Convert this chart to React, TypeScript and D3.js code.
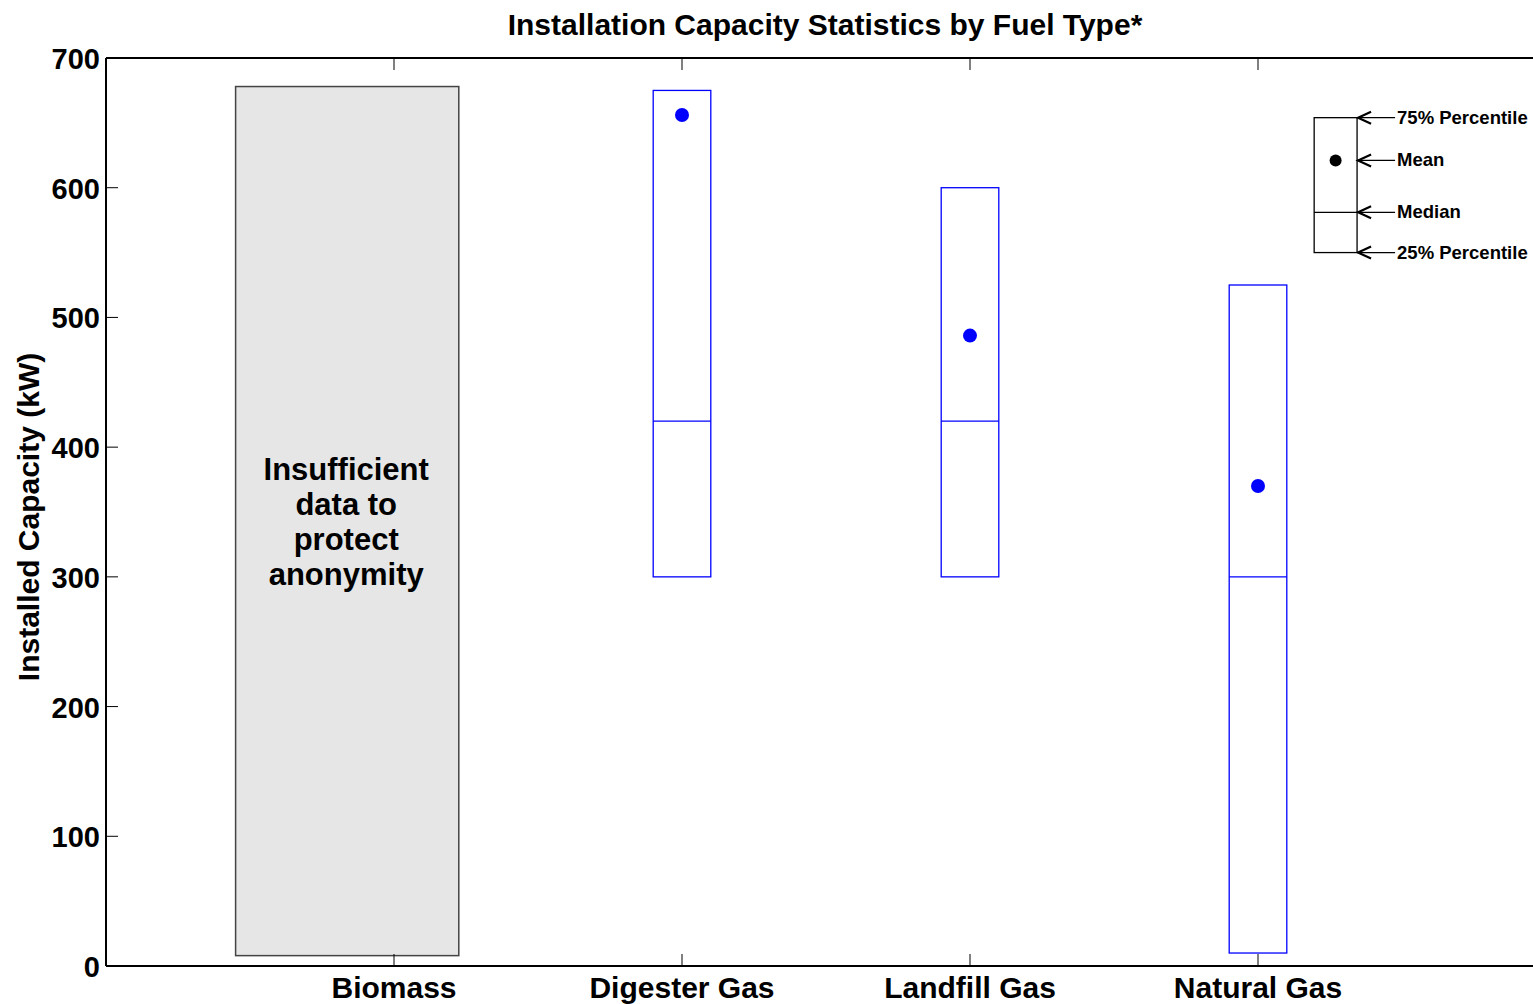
import React from "react";
import * as d3 from "d3";

const categories = ["Biomass", "Digester Gas", "Landfill Gas", "Natural Gas"];
const q75 = [null, 675, 600, 525];
const medians = [null, 420, 420, 300];
const q25 = [null, 300, 300, 10];
const means = [null, 656, 486, 370];
const yTicks = [0, 100, 200, 300, 400, 500, 600, 700];
const hiddenBox = { x0: 0.45, x1: 1.225, top: 678, bottom: 8 };
const hiddenText = ["Insufficient", "data to", "protect", "anonymity"];
const legendVals = { top: 654, mean: 621, median: 581, bottom: 550 };
const legendLabels = ["75% Percentile", "Mean", "Median", "25% Percentile"];

const W = 1533;
const H = 1004;
const font = "Liberation Sans, Arial, sans-serif";

export default function App() {
  const x = d3.scaleLinear().domain([0, 5]).range([106, 1546]);
  const y = d3.scaleLinear().domain([0, 700]).range([966, 58]);
  const boxW = 0.1;
  const tickLen = 12;

  const legX0 = x(4.195);
  const legX1 = x(4.344);
  const legRows = [legendVals.top, legendVals.mean, legendVals.median, legendVals.bottom];

  return (
    <svg width={W} height={H} style={{ position: "absolute", left: 0, top: 0 }} fontFamily={font}>
      <rect width={W} height={H} fill="#fff" />
      <text x={825} y={35} textAnchor="middle" fontSize={30} fontWeight="bold">
        Installation Capacity Statistics by Fuel Type*
      </text>
      <text transform={`translate(39,517) rotate(-90)`} textAnchor="middle" fontSize={30} fontWeight="bold">
        Installed Capacity (kW)
      </text>

      {/* biomass placeholder */}
      <rect x={x(hiddenBox.x0)} y={y(hiddenBox.top)} width={x(hiddenBox.x1) - x(hiddenBox.x0)}
        height={y(hiddenBox.bottom) - y(hiddenBox.top)} fill="#e6e6e6" stroke="#444" strokeWidth={1.5} />
      {hiddenText.map((t, i) => (
        <text key={t} x={(x(hiddenBox.x0) + x(hiddenBox.x1)) / 2 - 1} y={480 + i * 35}
          textAnchor="middle" fontSize={31} fontWeight="bold">{t}</text>
      ))}

      {/* ticks */}
      {yTicks.map(v => (
        <g key={v}>
          <line x1={x(0)} x2={x(0) + tickLen} y1={y(v)} y2={y(v)} stroke="#000" strokeWidth={1} />
          <line x1={x(5)} x2={x(5) - tickLen} y1={y(v)} y2={y(v)} stroke="#000" strokeWidth={1} />
          <text x={x(0) - 6} y={y(v) + 11} textAnchor="end" fontSize={29} fontWeight="bold">{v}</text>
        </g>
      ))}
      {categories.map((c, i) => (
        <g key={c}>
          <line x1={x(i + 1)} x2={x(i + 1)} y1={y(0)} y2={y(0) - tickLen} stroke="#000" strokeWidth={1} />
          <line x1={x(i + 1)} x2={x(i + 1)} y1={y(700)} y2={y(700) + tickLen} stroke="#000" strokeWidth={1} />
          <text x={x(i + 1)} y={y(0) + 32} textAnchor="middle" fontSize={30} fontWeight="bold">{c}</text>
        </g>
      ))}

      {/* boxes */}
      {categories.map((c, i) => {
        if (q75[i] == null) return null;
        const cx = x(i + 1);
        const left = x(i + 1 - boxW);
        const right = x(i + 1 + boxW);
        return (
          <g key={c}>
            <rect x={left} y={y(q75[i]!)} width={right - left} height={y(q25[i]!) - y(q75[i]!)}
              fill="none" stroke="#0000ff" strokeWidth={1.3} />
            <line x1={left} x2={right} y1={y(medians[i]!)} y2={y(medians[i]!)} stroke="#0000ff" strokeWidth={1.3} />
            <circle cx={cx} cy={y(means[i]!)} r={7} fill="#0000ff" />
          </g>
        );
      })}

      {/* axes frame */}
      <line x1={x(0)} x2={x(0)} y1={y(0)} y2={y(700)} stroke="#000" strokeWidth={2} />
      <line x1={x(0)} x2={x(5)} y1={y(0)} y2={y(0)} stroke="#000" strokeWidth={2} />
      <line x1={x(0)} x2={x(5)} y1={y(700)} y2={y(700)} stroke="#000" strokeWidth={2} />

      {/* legend */}
      <rect x={legX0} y={y(legendVals.top)} width={legX1 - legX0} height={y(legendVals.bottom) - y(legendVals.top)}
        fill="none" stroke="#000" strokeWidth={1.3} />
      <line x1={legX0} x2={legX1} y1={y(legendVals.median)} y2={y(legendVals.median)} stroke="#000" strokeWidth={1.3} />
      <circle cx={(legX0 + legX1) / 2} cy={y(legendVals.mean)} r={6} fill="#000" />
      {legRows.map((v, i) => {
        const yy = y(v);
        return (
          <g key={legendLabels[i]}>
            <line x1={legX1} x2={legX1 + 38} y1={yy} y2={yy} stroke="#000" strokeWidth={1.3} />
            <path d={`M${legX1 + 14},${yy - 6} L${legX1 + 1},${yy} L${legX1 + 14},${yy + 6}`} fill="none" stroke="#000" strokeWidth={2.2} />
            <text x={legX1 + 40} y={yy + 6} fontSize={18.5} fontWeight="bold">{legendLabels[i]}</text>
          </g>
        );
      })}
    </svg>
  );
}
